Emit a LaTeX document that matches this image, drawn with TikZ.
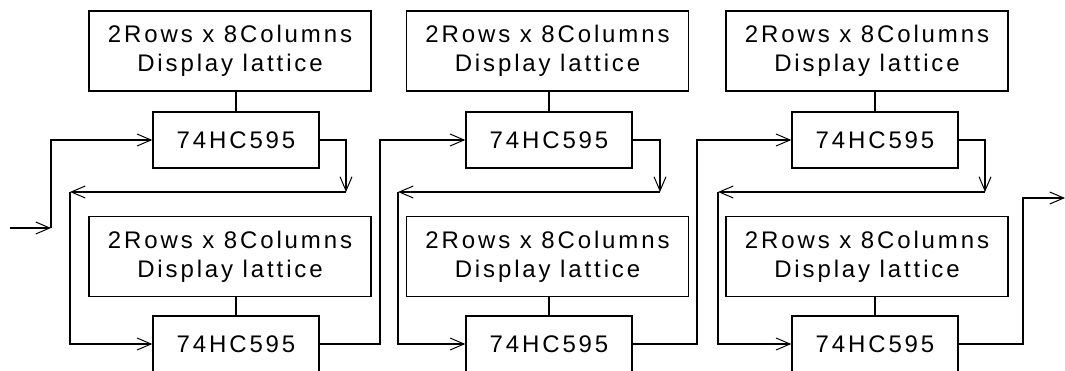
\documentclass[tikz,border=0pt]{standalone}
\usepackage{fontspec}
\setmainfont{Liberation Sans}[LetterSpace=12]
\usetikzlibrary{arrows.meta}

\begin{document}
\begin{tikzpicture}[x=1pt, y=-1pt,
every node/.style = {draw, line width=1.4pt, inner sep=0pt, font=\fontsize{24}{29}\selectfont},
  lattice/.style = {minimum width=282pt, minimum height=80pt, align=center},
  chip/.style = {minimum width=166pt, minimum height=56pt},
  wire/.style = {line width=1.4pt},
  arr/.style = {wire, -{Straight Barb[length=14pt, width=12pt, line width=1pt]}}
]
\useasboundingbox (0,0) rectangle (1065,371);
% displays and shift registers
\node[lattice] (dt1) at (230,51) {2Rows x 8Columns\\Display lattice};
\node[chip] (t1) at (236,140) {74HC595};
\node[lattice] (db1) at (230,256.5) {2Rows x 8Columns\\Display lattice};
\node[chip] (b1) at (236,344) {74HC595};
\node[lattice] (dt2) at (547.5,51) {2Rows x 8Columns\\Display lattice};
\node[chip] (t2) at (549,140) {74HC595};
\node[lattice] (db2) at (547.5,256.5) {2Rows x 8Columns\\Display lattice};
\node[chip] (b2) at (549,344) {74HC595};
\node[lattice] (dt3) at (867,51) {2Rows x 8Columns\\Display lattice};
\node[chip] (t3) at (875,140) {74HC595};
\node[lattice] (db3) at (867,256.5) {2Rows x 8Columns\\Display lattice};
\node[chip] (b3) at (875,344) {74HC595};
% corners of the wires
\coordinate (in) at (10,228);
\coordinate (in1) at (51,228);
\coordinate (r1) at (346,192);
\coordinate (l1) at (70,192);
\coordinate (o1) at (380,344);
\coordinate (r2) at (660,192);
\coordinate (l2) at (398,192);
\coordinate (o2) at (697,344);
\coordinate (r3) at (985,192);
\coordinate (l3) at (718,192);
\coordinate (o3) at (1023,344);
\coordinate (out) at (1065,198);
% display to chip
\draw[wire] (t1.north) -- (t1.north |- dt1.south);
\draw[wire] (b1.north) -- (b1.north |- db1.south);
\draw[wire] (t2.north) -- (t2.north |- dt2.south);
\draw[wire] (b2.north) -- (b2.north |- db2.south);
\draw[wire] (t3.north) -- (t3.north |- dt3.south);
\draw[wire] (b3.north) -- (b3.north |- db3.south);
% data chain
\draw[arr] (in) -- (in1);
\draw[arr] (in1) |- (t1.west);
\draw[arr] (t1.east) -| (r1);
\draw[arr] (r1) -- (l1);
\draw[arr] (l1) |- (b1.west);
\draw[arr] (b1.east) -- (o1) |- (t2.west);
\draw[arr] (t2.east) -| (r2);
\draw[arr] (r2) -- (l2);
\draw[arr] (l2) |- (b2.west);
\draw[arr] (b2.east) -- (o2) |- (t3.west);
\draw[arr] (t3.east) -| (r3);
\draw[arr] (r3) -- (l3);
\draw[arr] (l3) |- (b3.west);
\draw[arr] (b3.east) -- (o3) |- (out);
\end{tikzpicture}
\end{document}
